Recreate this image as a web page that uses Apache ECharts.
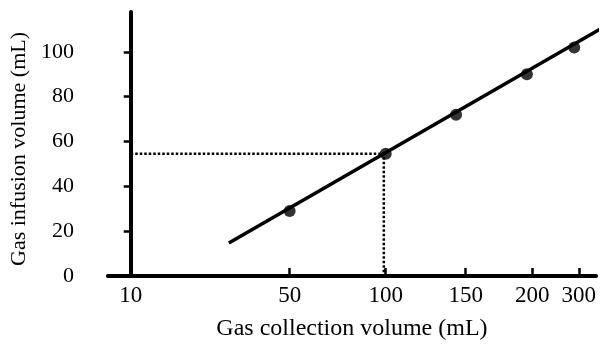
<!DOCTYPE html>
<html>
<head>
<meta charset="utf-8">
<script src="https://cdn.jsdelivr.net/npm/echarts@6/dist/echarts.min.js"></script>
<style>html,body{margin:0;padding:0;background:#fff}#c{width:608px;height:346px}</style>
</head>
<body>
<div id="c"></div>
<script>
// Tick labels of the (non-uniform) collection-volume axis and where they sit along it
const xTicks = [10, 50, 100, 150, 200, 300];
const xTickPos = [0, 167, 268, 352, 422, 471];
const yTicks = [0, 20, 40, 60, 80, 100];

// Measured points
const gasCollection = [50, 100, 144, 196, 290];
const gasInfusion = [29, 54.5, 72, 90, 102];

// Fitted line end points
const fitX = [34.7, 361];
const fitY = [14.7, 112];

// Reading guide (100 mL collection -> infusion)
const readX = 99;
const readY = 54.5;

// piecewise-linear custom scale from value to axis position
function pos(v) {
  let i = 0;
  while (i < xTicks.length - 2 && v > xTicks[i + 1]) i++;
  const t = (v - xTicks[i]) / (xTicks[i + 1] - xTicks[i]);
  return xTickPos[i] + t * (xTickPos[i + 1] - xTickPos[i]);
}

const font = 'Liberation Serif';
const chart = echarts.init(document.getElementById('c'));
chart.setOption({
  animation: false,
  grid: { left: 83, right: 12, top: 12, bottom: 69, containLabel: false },
  xAxis: {
    type: 'value', min: -24, max: 489,
    name: 'Gas collection volume (mL)', nameLocation: 'middle', nameGap: 41,
    nameTextStyle: { fontFamily: font, fontSize: 24, color: '#000' },
    axisLine: { onZero: false, lineStyle: { color: '#000', width: 4 } },
    axisTick: { inside: true, length: 8, lineStyle: { color: '#000', width: 2.5 }, customValues: xTickPos },
    axisLabel: {
      customValues: xTickPos, margin: 8,
      fontFamily: font, fontSize: 23, color: '#000',
      formatter: v => { const i = xTickPos.indexOf(v); return i >= 0 ? String(xTicks[i]) : ''; }
    },
    splitLine: { show: false }
  },
  yAxis: {
    type: 'value', min: 0, max: 117.8,
    name: 'Gas infusion volume (mL)', nameLocation: 'middle', nameGap: 75,
    nameTextStyle: { fontFamily: font, fontSize: 22, color: '#000', padding: [0, 10, 0, 0] },
    axisLine: { onZero: true, lineStyle: { color: '#000', width: 4 } },
    axisTick: { length: 7, lineStyle: { color: '#000', width: 2.5 }, customValues: yTicks },
    axisLabel: { customValues: yTicks, margin: 34, fontFamily: font, fontSize: 22, color: '#000' },
    splitLine: { show: false }
  },
  series: [
    {
      type: 'line', silent: true, symbol: 'none', clip: false,
      lineStyle: { color: '#000', width: 2.5, type: [2.5, 2] },
      data: [[pos(xTicks[0]), readY], [pos(readX), readY], [pos(readX), 0]],
      z: 1
    },
    {
      type: 'line', silent: true, symbol: 'none', clip: false,
      lineStyle: { color: '#000', width: 3.5 },
      data: fitX.map((x, i) => [pos(x), fitY[i]]),
      z: 2
    },
    {
      type: 'scatter', symbolSize: 12,
      itemStyle: { color: '#000' },
      data: gasCollection.map((x, i) => [pos(x), gasInfusion[i]]),
      z: 3
    }
  ]
});
</script>
</body>
</html>
